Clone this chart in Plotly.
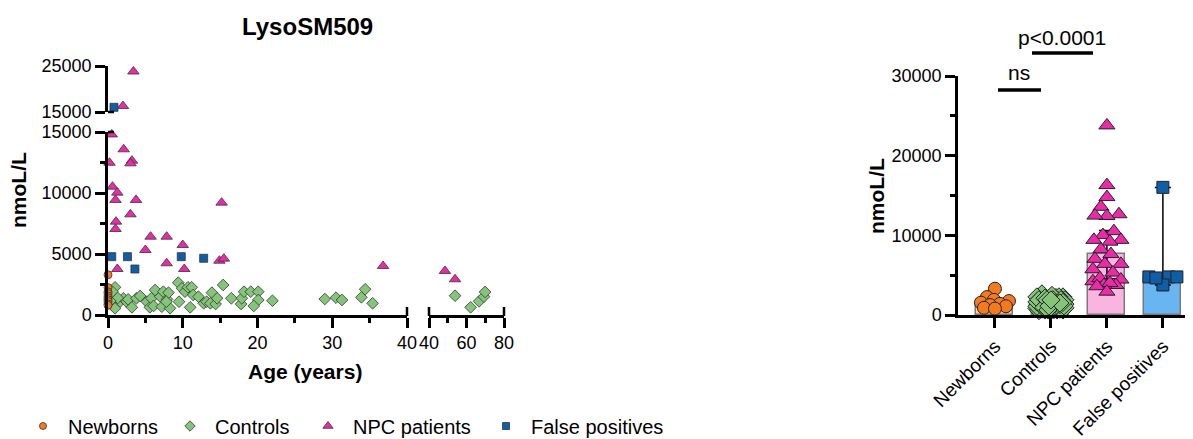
import plotly.graph_objects as go

# ---------------- data ----------------
newborn_age = [0, 0, 0, 0, 0, 0, 0, 0, 0, 0]
newborn_val = [3300, 2250, 1900, 1750, 1550, 1400, 1250, 1100, 900, 800]

control_age = [0.94, 0.8, 1.16, 0.5, 1.6, 2.05, 2.5, 2.7, 3.2, 3.8, 4.3, 0.94, 5.2, 5.6, 5.8, 6.3, 6.1,
               7.0, 7.2, 7.4, 7.9, 8.1, 8.3, 7.8, 9.4, 9.5, 9.9, 10.3, 11.0, 10.7, 11.2, 11.4, 12.1,
               12.8, 13.2, 13.9, 13.7, 14.4, 14.6, 15.4, 16.5, 17.8, 17.9, 18.2, 19.1, 20.1, 20.1,
               19.5, 22.0, 29.0, 30.5, 31.3, 33.9, 34.4, 35.4, 0.4, 0.6, 1.3, 0.3,
               53.9, 62.2, 66.7, 69.3, 69.9]
control_val = [2270, 1580, 1090, 820, 1090, 1370, 1090, 1280, 630, 1370, 1560, 550, 1090, 630, 1370, 2050, 740,
               1500, 680, 1910, 1280, 1830, 550, 1090, 2650, 1090, 2190, 1910, 630, 2270, 2270, 1640, 1500,
               960, 1090, 1830, 960, 900, 1370, 2460, 1370, 900, 1370, 1910, 1910, 1910, 1230,
               740, 1170, 1310, 1420, 1230, 1450, 2110, 960, 1500, 1900, 1400, 1150,
               1580, 630, 1120, 1500, 1890]

npc_age = [3.4, 2.0, 0.5, 2.1, 3.2, 3.0, 0.2, 0.6, 1.25, 1.0, 3.75, 15.2, 3.0, 1.07, 1.0, 5.7, 7.85,
           10.0, 5.0, 7.85, 14.9, 15.5, 10.2, 1.25, 36.8, 48.5, 53.9]
npc_val = [23800, 16300, 14800, 13580, 12650, 12430, 12480, 10520, 10030, 9430, 9430, 9210, 8250, 7650,
           7050, 6420, 6420, 5740, 5330, 4240, 4450, 4620, 3770, 3770, 4020, 3610, 2930]

fp_age = [0.8, 0.5, 2.6, 3.6, 9.8, 12.8]
fp_val = [16020, 4780, 4780, 3770, 4780, 4650]

groups = ["Newborns", "Controls", "NPC patients", "False positives"]
bar_median = [1450, 1300, 7700, 4700]
err_low = [1150, 1000, 4550, 3760]
err_high = [1800, 1650, 10600, 16000]

left_xticks = [0, 10, 20, 30, 40]
left_xminor = [5, 15, 25, 35]
right_xticks = [40, 60, 80]
right_xminor = [50, 70]
low_yticks = [0, 5000, 10000, 15000]
low_yminor = [2500, 7500, 12500]
top_yticks = [15000, 25000]
bar_yticks = [0, 10000, 20000, 30000]
bar_yminor = [5000, 15000, 25000]

# ---------------- geometry (page has an 8px body margin) ----------------
OFF = 8
W, H = 1193 - OFF, 439 - OFF
def fx(x): return (x - OFF) / W
def fy(y): return 1 - (y - OFF) / H

FONT = "Arial, Liberation Sans, sans-serif"
styles = {
    "Newborns": dict(symbol="circle", color="#f47a1f", lsize=8, rsize=13),
    "Controls": dict(symbol="diamond", color="#84c57a", lsize=9, rsize=14),
    "NPC patients": dict(symbol="triangle-up", color="#ec2aa9", lsize=10, rsize=14),
    "False positives": dict(symbol="square", color="#0f5ea8", lsize=8, rsize=12),
}
bar_fill = ["#fbcda3", "#c8e4b8", "#f9b4df", "#67b6f3"]
data = {
    "Newborns": (newborn_age, newborn_val),
    "Controls": (control_age, control_val),
    "NPC patients": (npc_age, npc_val),
    "False positives": (fp_age, fp_val),
}
draw_order = ["Controls", "NPC patients", "False positives", "Newborns"]

fig = go.Figure()

# ---------------- left broken-axis scatter ----------------
for g in draw_order:
    ages, vals = data[g]
    st = styles[g]
    parts = {"ll": ([], []), "lr": ([], []), "ul": ([], [])}
    for a, v in zip(ages, vals):
        if a >= 40:
            k = "lr"
        elif v > 15000:
            k = "ul"
        else:
            k = "ll"
        parts[k][0].append(a)
        parts[k][1].append(v)
    axes = {"ll": ("x", "y"), "lr": ("x2", "y2"), "ul": ("x3", "y3")}
    for k, (xa, ya) in axes.items():
        xs, ys = parts[k]
        if not xs:
            continue
        fig.add_trace(go.Scatter(
            x=xs, y=ys, mode="markers", xaxis=xa, yaxis=ya, showlegend=False, cliponaxis=False,
            marker=dict(symbol=st["symbol"], size=st["lsize"], color=st["color"],
                        line=dict(color="#333333", width=0.8)),
            hoverinfo="skip"))

# legend entries
leg_widths = [92, 83, 123, 140]
for g, lw in zip(groups, leg_widths):
    st = styles[g]
    fig.add_trace(go.Scatter(
        x=[None], y=[None], mode="markers", name=g, xaxis="x", yaxis="y", legendwidth=lw,
        marker=dict(symbol=st["symbol"], size=st["lsize"] - 1, color=st["color"],
                    line=dict(color="#333333", width=0.8))))

# ---------------- right bar chart ----------------
XS = 234 / (3.52 + 0.66)
YS = 239 / 30000

def swarm(vals, center, diam, max_off):
    ys = [v * YS for v in vals]
    order = sorted(range(len(vals)), key=lambda i: vals[i])
    cands = sorted(range(-max_off, max_off + 1), key=abs)
    placed, offs = [], [0] * len(vals)
    for i in order:
        best, bestd = 0, -1
        for c in cands:
            md = min([((c - px) ** 2 + (ys[i] - py) ** 2) ** 0.5 for px, py in placed] or [1e9])
            if md >= diam:
                best = c
                break
            if md > bestd:
                bestd, best = md, c
        placed.append((best, ys[i]))
        offs[i] = best
    return [center + o / XS for o in offs]

fig.add_trace(go.Bar(
    x=list(range(len(groups))), y=bar_median, width=0.66, xaxis="x4", yaxis="y4", showlegend=False,
    marker=dict(color=bar_fill, line=dict(color="#7a7a7a", width=1.5)),
    error_y=dict(type="data", symmetric=False,
                 array=[h - m for h, m in zip(err_high, bar_median)],
                 arrayminus=[m - l for m, l in zip(bar_median, err_low)],
                 color="black", thickness=1.5, width=8),
    hoverinfo="skip"))

for gi, g in enumerate(groups):
    _, vals = data[g]
    st = styles[g]
    xs = swarm(vals, gi, st["rsize"] * 0.8, 14)
    fig.add_trace(go.Scatter(
        x=xs, y=vals, mode="markers", xaxis="x4", yaxis="y4", showlegend=False, cliponaxis=False,
        marker=dict(symbol=st["symbol"], size=st["rsize"], color=st["color"],
                    line=dict(color="#222222", width=1)),
        hoverinfo="skip"))

# ---------------- axes ----------------
tickfont = dict(family=FONT, size=18, color="black")
def ax(**kw):
    base = dict(showline=True, linecolor="black", linewidth=2.5, ticks="outside", tickcolor="black",
                tickwidth=2.5, ticklen=10, showgrid=False, zeroline=False, tickfont=tickfont,
                tickformat="d", fixedrange=True, automargin=False)
    base.update(kw)
    return base

def minor(vals):
    return dict(tickvals=vals, ticks="outside", ticklen=5, tickwidth=2.5, tickcolor="black", showgrid=False)

fig.update_layout(
    xaxis=ax(domain=[fx(108), fx(407)], range=[0, 40], anchor="y", tickvals=left_xticks,
             minor=minor(left_xminor)),
    yaxis=ax(domain=[fy(315), fy(132)], range=[0, 15000], anchor="x", tickvals=low_yticks,
             minor=minor(low_yminor)),
    xaxis2=ax(domain=[fx(429), fx(504)], range=[40, 80], anchor="y2", tickvals=right_xticks,
              minor=minor(right_xminor)),
    yaxis2=dict(domain=[fy(315), fy(132)], range=[0, 15000], anchor="x2", visible=False,
                fixedrange=True, automargin=False),
    xaxis3=dict(domain=[fx(108), fx(407)], range=[0, 40], anchor="y3", visible=False,
                fixedrange=True, automargin=False),
    yaxis3=ax(domain=[fy(112), fy(66)], range=[15000, 25000], anchor="x3", tickvals=top_yticks),
    xaxis4=ax(domain=[fx(958), fx(1192)], range=[-0.66, 3.52], anchor="y4",
              tickvals=list(range(len(groups))), ticktext=groups, tickangle=-45,
              tickfont=dict(family=FONT, size=19, color="black")),
    yaxis4=ax(domain=[fy(315), fy(76)], range=[0, 30000], anchor="x4", tickvals=bar_yticks,
              minor=minor(bar_yminor)),
)

# ---------------- annotations ----------------
ann = []
def text(x, y, s, size, bold=False, angle=0):
    ann.append(dict(x=fx(x), y=fy(y), xref="paper", yref="paper", text=f"<b>{s}</b>" if bold else s,
                    showarrow=False, textangle=angle, xanchor="center", yanchor="middle",
                    font=dict(family=FONT, size=size, color="black")))

text(307, 27, "LysoSM509", 24, bold=True)
text(19, 190, "nmoL/L", 21, bold=True, angle=-90)
text(305, 371, "Age (years)", 21, bold=True)
text(877, 196, "nmoL/L", 21, bold=True, angle=-90)
text(1019, 73, "ns", 21)
text(1062, 37, "p&lt;0.0001", 21)

shapes = []
def line(x0, y0, x1, y1, w):
    shapes.append(dict(type="line", xref="paper", yref="paper", x0=fx(x0), y0=fy(y0), x1=fx(x1), y1=fy(y1),
                       line=dict(color="black", width=w)))

line(998, 90, 1041, 90, 3.5)
line(1032, 53, 1093, 53, 3.5)
# axis break marks
for bx in (407, 429, 504):
    line(bx, 307, bx, 316, 2.5)
line(108, 132, 114, 132, 2.5)
line(108, 112, 114, 112, 2.5)

fig.update_layout(
    width=W, height=H, margin=dict(l=0, r=0, t=0, b=0, autoexpand=False),
    plot_bgcolor="white", paper_bgcolor="white",
    annotations=ann, shapes=shapes, bargap=0,
    showlegend=True,
    legend=dict(orientation="h", x=fx(18), y=fy(426), xanchor="left", yanchor="middle",
                font=dict(family=FONT, size=20, color="black"), bgcolor="rgba(0,0,0,0)",
                tracegroupgap=0, itemwidth=40),
)

fig.write_html("out.html")
